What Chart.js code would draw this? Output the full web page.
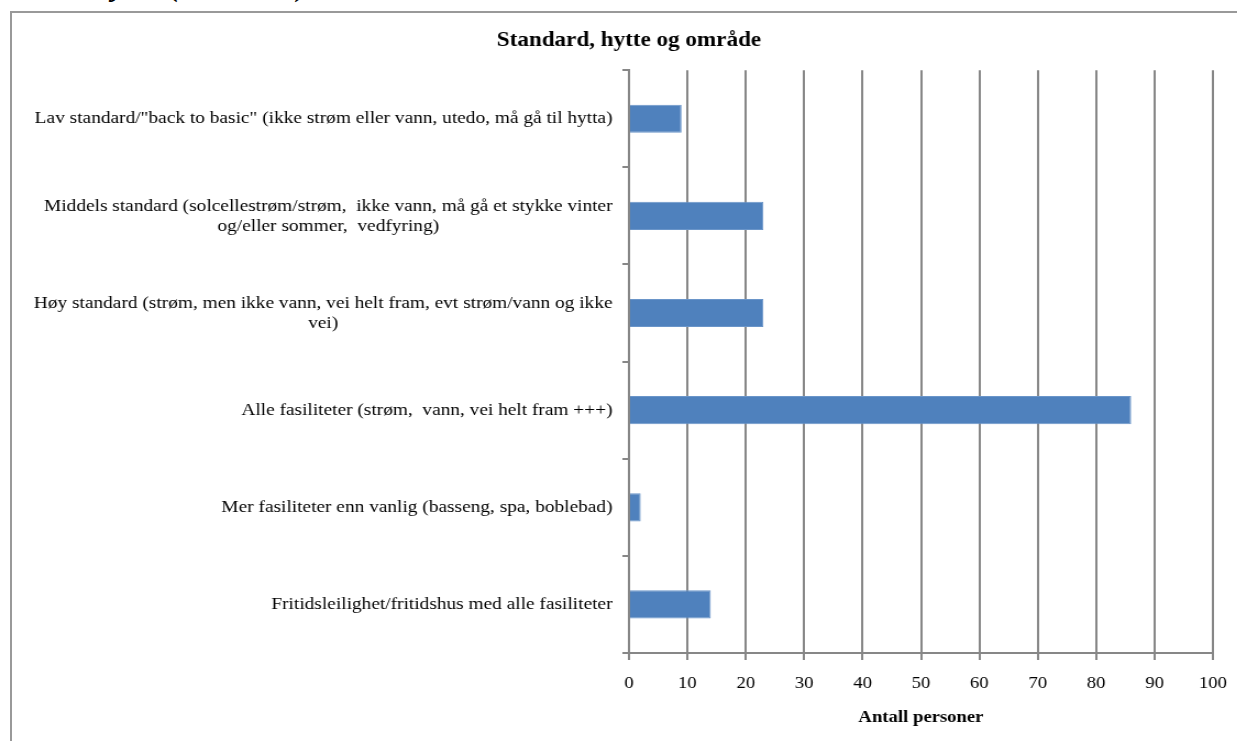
<!DOCTYPE html>
<html>
<head>
<meta charset="utf-8">
<script src="https://cdn.jsdelivr.net/npm/chart.js@4.4.1/dist/chart.umd.min.js"></script>
<style>
  html, body { margin: 0; padding: 0; background: #fff; overflow: hidden; }
  body { width: 1237px; height: 741px; position: relative; }
  .lead {
    position: absolute; left: -2px; top: -32px;
    font: italic 33px/32px "Liberation Serif", serif; color: #000; white-space: nowrap;
  }
  .frame {
    position: absolute; left: 10px; top: 11px; width: 1300px; height: 800px;
    border: 2px solid #999; box-sizing: border-box;
  }
  /* the canvas is drawn narrower and stretched sideways (x1.1) */
  #chart { position: absolute; left: 0; top: 0; }
</style>
</head>
<body>
<div class="lead">v selve hytta (standard).</div>
<div class="frame"></div>
<canvas id="chart" width="1144" height="741" style="width:1258.4px;height:741px"></canvas>
<script>
// ── Data ────────────────────────────────────────────
const categories = [
  ['Lav standard/"back to basic" (ikke strøm eller vann, utedo, må gå til hytta)'],
  ['Middels standard (solcellestrøm/strøm,  ikke vann, må gå et stykke vinter', 'og/eller sommer,  vedfyring)'],
  ['Høy standard (strøm, men ikke vann, vei helt fram, evt strøm/vann og ikke', 'vei)'],
  ['Alle fasiliteter (strøm,  vann, vei helt fram +++)'],
  ['Mer fasiliteter enn vanlig (basseng, spa, boblebad)'],
  ['Fritidsleilighet/fritidshus med alle fasiliteter'],
];
const personer = [9, 23, 23, 86, 2, 14];
const xTicks = [0, 10, 20, 30, 40, 50, 60, 70, 80, 90, 100];

const SERIF = '"Liberation Serif", "Times New Roman", serif';
const GRID = '#878787';

// ── Category labels: right-aligned block, each line centred ──
const blockLabels = {
  id: 'blockLabels',
  afterDraw(chart) {
    const { ctx, scales: { y } } = chart;
    const right = y.right - 15;
    const lineH = 20;
    ctx.save();
    ctx.font = '17.6px ' + SERIF;
    ctx.fillStyle = '#000';
    ctx.textAlign = 'center';
    ctx.textBaseline = 'middle';
    categories.forEach((lines, i) => {
      const widest = Math.max(...lines.map((l) => ctx.measureText(l).width));
      const cx = right - widest / 2;
      const cy = y.getPixelForValue(i);
      const top = cy - ((lines.length - 1) * lineH) / 2;
      lines.forEach((l, k) => ctx.fillText(l, cx, top + k * lineH));
    });
    ctx.restore();
  },
};

// ── Chart ───────────────────────────────────────────
new Chart(document.getElementById('chart'), {
  type: 'bar',
  data: {
    labels: categories,
    datasets: [{
      data: personer,
      backgroundColor: '#4F81BD',
      borderColor: '#6a95c9',
      borderWidth: 1,
      categoryPercentage: 1,
      barPercentage: 0.29,
    }],
  },
  options: {
    indexAxis: 'y',
    responsive: false,
    animation: false,
    layout: { padding: { left: 41, right: 41, top: 0, bottom: 0 } },
    plugins: {
      legend: { display: false },
      tooltip: { enabled: false },
      title: {
        display: true,
        text: 'Standard, hytte og område',
        color: '#000',
        font: { family: SERIF, size: 21, weight: 'bold', lineHeight: 1.2 },
        padding: { top: 28, bottom: 17 },
      },
    },
    scales: {
      x: {
        min: 0,
        max: 100,
        afterBuildTicks: (s) => { s.ticks = xTicks.map((v) => ({ value: v })); },
        afterFit: (s) => { s.height = 88; },
        grid: { color: GRID, lineWidth: 2, tickLength: 7, drawTicks: true },
        border: { color: GRID, width: 2 },
        ticks: {
          color: '#000',
          padding: 13,
          font: { family: SERIF, size: 17 },
        },
        title: {
          display: true,
          text: 'Antall personer',
          color: '#000',
          font: { family: SERIF, size: 17, weight: 'bold', lineHeight: 1.2 },
          padding: { top: 0, bottom: 13 },
        },
      },
      y: {
        afterFit: (s) => { s.width = 531; },
        grid: { offset: true, drawOnChartArea: false, color: GRID, lineWidth: 2, tickLength: 6 },
        border: { color: GRID, width: 2 },
        ticks: { color: 'rgba(0,0,0,0)', font: { family: SERIF, size: 16 } },
      },
    },
  },
  plugins: [blockLabels],
});
</script>
</body>
</html>
